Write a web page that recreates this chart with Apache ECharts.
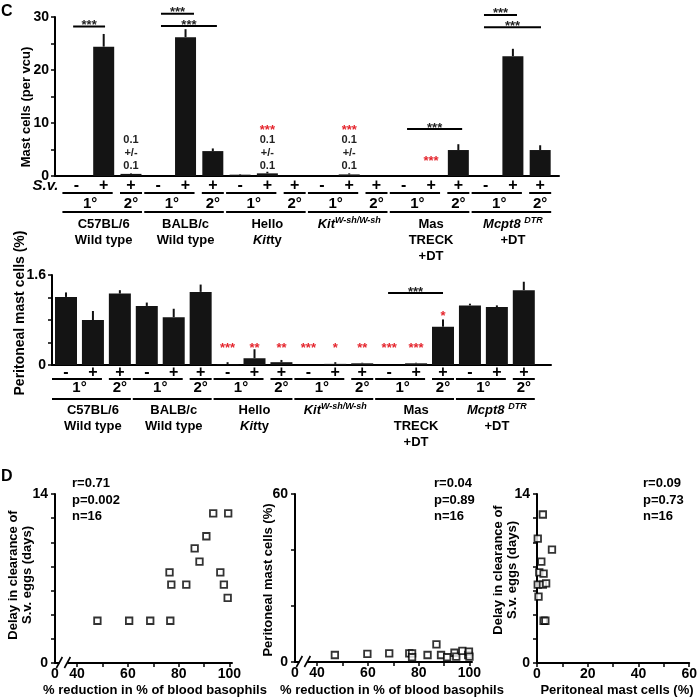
<!DOCTYPE html>
<html><head><meta charset="utf-8">
<script src="https://cdn.jsdelivr.net/npm/echarts@6/dist/echarts.min.js"></script>
<style>html,body{margin:0;padding:0;background:#fff}#c{width:700px;height:699px}</style>
</head><body><div id="c"></div>
<script>
// ---------------- data ----------------
const strainLabels = ['C57BL/6\nWild type', 'BALB/c\nWild type', 'Hello\n{i|Kit}ty', '{i|Kit}{sup|W-sh/W-sh}', 'Mas\nTRECK\n+DT', '{i|Mcpt8} {sup|DTR}\n+DT'];
const signs = ['-', '+', '+', '-', '+', '+', '-', '+', '+', '-', '+', '+', '-', '+', '+', '-', '+', '+'];
const infections = ['1°', '2°'];
const mastCells = [0, 24.4, 0.4, 0, 26.2, 4.7, 0.25, 0.5, 0, 0, 0.3, 0, 0, 0, 4.9, 0, 22.6, 4.9];
const mastCellsErr = [0, 2.4, 0.1, 0, 1.5, 0.5, 0.1, 0.3, 0, 0, 0.2, 0, 0, 0, 1.1, 0, 1.4, 0.9];
const periMast = [1.21, 0.80, 1.27, 1.05, 0.85, 1.30, 0.01, 0.12, 0.05, 0, 0.02, 0.03, 0, 0.03, 0.68, 1.06, 1.03, 1.33];
const periMastErr = [0.08, 0.16, 0.06, 0.06, 0.15, 0.13, 0.04, 0.16, 0.04, 0, 0.03, 0.01, 0, 0.01, 0.13, 0.03, 0.03, 0.15];
const mastTicks = [0, 10, 20, 30];
const periTicks = [0, 1.6];
// significance: [fromIndex, toIndex, yValue]
const topSigLines = [[-0.12, 1.05, 28.2], [3.1, 4.31, 30.6], [3.1, 5.15, 28.3], [12.12, 14.14, 8.87], [14.94, 16.15, 30.4], [14.94, 17.03, 28.06]];
const topRedStars = [[7, 9.25], [10, 9.25], [13, 3.4]];
const topRedStarText = ['***', '***', '***'];
const topSmallValues = [[2, 4.34], [7, 4.34], [10, 4.34]];
const topSmallText = '0.1\n+/-\n0.1';
const midSigLines = [[11.96, 14.0, 1.28]];
const midRedStars = [[6, 0.355], [7, 0.355], [8, 0.355], [9, 0.355], [10, 0.355], [11, 0.355], [12, 0.355], [13, 0.355], [14, 0.92]];
const midRedStarText = ['***', '**', '**', '***', '*', '**', '***', '***', '*'];
// scatter panels
const basoDelay = [[48.0, 3.5], [60.5, 3.5], [68.8, 3.5], [76.7, 3.5], [76.4, 7.5], [77.1, 6.5], [83.0, 6.5], [86.3, 9.5], [88.2, 8.4], [90.9, 10.5], [93.6, 12.4], [99.5, 12.4], [96.4, 7.5], [97.8, 6.5], [99.3, 5.4]];
const basoPeri = [[47.0, 2.5], [59.8, 2.9], [68.4, 3.1], [76.3, 3.1], [77.4, 3.1], [77.4, 1.7], [83.5, 2.5], [87.0, 6.3], [88.8, 2.5], [91.2, 1.7], [94.1, 3.3], [94.8, 1.9], [97.2, 4.0], [99.5, 2.5], [99.8, 3.7], [100, 1.9]];
const periDelay = [[2.3, 12.3], [0.3, 10.3], [5.9, 9.4], [1.7, 8.4], [0.9, 7.5], [2.6, 7.4], [0.3, 6.5], [2.3, 6.5], [3.6, 6.6], [0.6, 5.5], [2.6, 3.5], [3.3, 3.5]];
const basoLabelTicks = [40, 60, 80, 100];
const basoMinorTicks = [40, 50, 60, 70, 80, 90, 100];
const stats = [['r=0.71', 'p=0.002', 'n=16'], ['r=0.04', 'p=0.89', 'n=16'], ['r=0.09', 'p=0.73', 'n=16']];
const BASO_MIN = 31.3, BREAK_AT = 34.6;

// ---------------- styles ----------------
const FF = '"Liberation Sans", Arial, sans-serif';
const f = (s, extra) => (extra || 'bold') + ' ' + s + 'px ' + FF;
const AXLINE = { show: true, onZero: false, lineStyle: { color: '#000', width: 2 } };
const AXTICK = { show: true, length: 4, lineStyle: { color: '#000', width: 1.5 } };
const LBL = { color: '#000', fontWeight: 'bold', fontSize: 14, fontFamily: FF };
const RED = '#e5262e';
const richStyle = {
  i: { fontStyle: 'italic', fontWeight: 'bold', fontSize: 13, fontFamily: FF, fill: '#000' },
  sup: { fontStyle: 'italic', fontWeight: 'bold', fontSize: 9, fontFamily: FF, fill: '#000', verticalAlign: 'top', lineHeight: 9 }
};

function errorRender(params, api) {
  const x = api.value(0), v = api.value(1), e = api.value(2);
  if (!(e > 0)) return null;
  const a = api.coord([x, v]), b = api.coord([x, v + e]);
  return { type: 'line', shape: { x1: a[0], y1: a[1], x2: b[0], y2: b[1] }, style: { stroke: '#111', lineWidth: 2 } };
}
function makeSigRender(list) {
  return function (params, api) {
    const d = list[params.dataIndex];
    const a = api.coord([d[0], d[2]]), b = api.coord([d[1], d[2]]);
    return { type: 'group', children: [
      { type: 'line', shape: { x1: a[0], y1: a[1], x2: b[0], y2: a[1] }, style: { stroke: '#000', lineWidth: 2 } },
      { type: 'text', style: { text: '***', x: (a[0] + b[0]) / 2, y: a[1] - 1, align: 'center', verticalAlign: 'middle', font: f(13), fill: '#222' } }
    ] };
  };
}
function makeStarRender(list, texts, color) {
  return function (params, api) {
    const d = list[params.dataIndex];
    const p = api.coord([d[0], d[1]]);
    return { type: 'text', style: { text: texts[params.dataIndex], x: p[0], y: p[1] + 3, align: 'center', verticalAlign: 'middle', font: f(13), fill: color } };
  };
}
function smallValRender(params, api) {
  const p = api.coord([api.value(0), api.value(1)]);
  return { type: 'text', style: { text: topSmallText, x: p[0], y: p[1], align: 'center', verticalAlign: 'middle', font: f(11), lineHeight: 12.7, fill: '#222' } };
}
function makeBelowRender(cfg) {
  return function (params, api) {
    const g = params.dataIndex, b = g * 3;
    const p0 = api.coord([b, 0]), p1 = api.coord([b + 1, 0]), p2 = api.coord([b + 2, 0]);
    const y0 = p0[1];
    const ln = (x1, x2, y) => ({ type: 'line', shape: { x1: x1, y1: y, x2: x2, y2: y }, style: { stroke: '#000', lineWidth: 2 } });
    const tx = (t, x, y, font) => ({ type: 'text', style: { text: t, x: x, y: y, align: 'center', verticalAlign: 'middle', font: font, fill: '#000' } });
    const ch = [
      ln(p0[0] - 14, p1[0] + 9, y0 + cfg.r1),
      ln(p2[0] - 11, p2[0] + 11, y0 + cfg.r1),
      tx(infections[0], (p0[0] + p1[0]) / 2, y0 + cfg.r2, f(15)),
      tx(infections[1], p2[0], y0 + cfg.r2, f(15)),
      ln(p0[0] - 14, p2[0] + 11, y0 + cfg.r3),
      { type: 'text', style: { text: strainLabels[g], x: p1[0], y: y0 + cfg.r4, align: 'center', verticalAlign: 'top', font: f(13), lineHeight: cfg.lh, rich: richStyle, fill: '#000' } }
    ];
    if (cfg.sv && g === 0) {
      ch.push({ type: 'text', style: { text: 'S.v.', x: p0[0] - 18, y: y0 + 10, align: 'right', verticalAlign: 'middle', font: f(15, 'italic bold'), fill: '#000' } });
    }
    return { type: 'group', children: ch };
  };
}
function breakRender(params, api) {
  const p = api.coord([api.value(0), api.value(1)]);
  const x = p[0], y = p[1];
  return { type: 'group', children: [
    { type: 'rect', shape: { x: x - 4, y: y - 2, width: 8, height: 4 }, style: { fill: '#fff' } },
    { type: 'line', shape: { x1: x - 7, y1: y + 5, x2: x - 1, y2: y - 6 }, style: { stroke: '#000', lineWidth: 1.6 } },
    { type: 'line', shape: { x1: x + 1, y1: y + 5, x2: x + 7, y2: y - 6 }, style: { stroke: '#000', lineWidth: 1.6 } }
  ] };
}
const idx18 = signs.map((s, i) => i);
const SQ = { type: 'scatter', symbol: 'rect', symbolSize: 6.5, itemStyle: { color: '#fff', borderColor: '#000', borderWidth: 1.8 } };

const option = {
  animation: false,
  backgroundColor: '#fff',
  grid: [
    { left: 55, top: 17, width: 504, height: 159 },
    { left: 52, top: 275, width: 499, height: 90 },
    { left: 55, top: 494, width: 177, height: 169 },
    { left: 295, top: 494, width: 177, height: 168 },
    { left: 537, top: 494, width: 153, height: 169 }
  ],
  xAxis: [
    { gridIndex: 0, type: 'value', min: -0.785, max: 17.69, axisLine: AXLINE, axisTick: { show: false }, splitLine: { show: false },
      axisLabel: Object.assign({}, LBL, { fontSize: 16, customValues: idx18, margin: 10, verticalAlign: 'middle', formatter: v => signs[Math.round(v)] }) },
    { gridIndex: 1, type: 'value', min: -0.52, max: 18.01, axisLine: AXLINE, axisTick: { show: false }, splitLine: { show: false },
      axisLabel: Object.assign({}, LBL, { fontSize: 16, customValues: idx18, margin: 8, verticalAlign: 'middle', formatter: v => signs[Math.round(v)] }) },
    { gridIndex: 2, type: 'value', min: BASO_MIN, max: 101, axisLine: AXLINE, splitLine: { show: false },
      axisTick: Object.assign({}, AXTICK, { customValues: basoMinorTicks }),
      axisLabel: Object.assign({}, LBL, { margin: 4, customValues: [BASO_MIN].concat(basoLabelTicks), formatter: v => v < 35 ? '0' : String(v) }) },
    { gridIndex: 3, type: 'value', min: BASO_MIN, max: 101, axisLine: AXLINE, splitLine: { show: false },
      axisTick: Object.assign({}, AXTICK, { customValues: basoMinorTicks }),
      axisLabel: Object.assign({}, LBL, { margin: 4, customValues: [BASO_MIN].concat(basoLabelTicks), formatter: v => v < 35 ? '0' : String(v) }) },
    { gridIndex: 4, type: 'value', min: 0, max: 60, interval: 10, axisLine: AXLINE, splitLine: { show: false }, axisTick: AXTICK,
      axisLabel: Object.assign({}, LBL, { margin: 4, formatter: v => v % 20 === 0 ? String(v) : '' }) }
  ],
  yAxis: [
    { gridIndex: 0, type: 'value', min: 0, max: 30, interval: 5, axisLine: AXLINE, axisTick: AXTICK, splitLine: { show: false },
      axisLabel: Object.assign({}, LBL, { margin: 6, formatter: v => mastTicks.indexOf(v) >= 0 ? String(v) : '' }) },
    { gridIndex: 1, type: 'value', min: 0, max: 1.6, interval: 0.4, axisLine: AXLINE, axisTick: AXTICK, splitLine: { show: false },
      axisLabel: Object.assign({}, LBL, { margin: 6, formatter: v => { const t = periTicks.find(k => Math.abs(k - v) < 1e-6); return t === undefined ? '' : String(t); } }) },
    { gridIndex: 2, type: 'value', min: 0, max: 14, interval: 2, axisLine: AXLINE, axisTick: AXTICK, splitLine: { show: false },
      axisLabel: Object.assign({}, LBL, { margin: 7, formatter: v => (v === 0 || v === 14) ? String(v) : '' }) },
    { gridIndex: 3, type: 'value', min: 0, max: 60, interval: 20, axisLine: AXLINE, axisTick: AXTICK, splitLine: { show: false },
      axisLabel: Object.assign({}, LBL, { margin: 7, formatter: v => (v === 0 || v === 60) ? String(v) : '' }) },
    { gridIndex: 4, type: 'value', min: 0, max: 14, interval: 2, axisLine: AXLINE, axisTick: AXTICK, splitLine: { show: false },
      axisLabel: Object.assign({}, LBL, { margin: 7, formatter: v => (v === 0 || v === 14) ? String(v) : '' }) }
  ],
  series: [
    { type: 'bar', xAxisIndex: 0, yAxisIndex: 0, barWidth: 21, itemStyle: { color: '#141414' }, data: mastCells.map((v, i) => [i, v]) },
    { type: 'custom', xAxisIndex: 0, yAxisIndex: 0, renderItem: errorRender, data: mastCells.map((v, i) => [i, v, mastCellsErr[i]]), z: 3 },
    { type: 'custom', xAxisIndex: 0, yAxisIndex: 0, renderItem: makeSigRender(topSigLines), data: topSigLines.map(d => [d[0], d[2]]), clip: false, z: 4 },
    { type: 'custom', xAxisIndex: 0, yAxisIndex: 0, renderItem: makeStarRender(topRedStars, topRedStarText, RED), data: topRedStars, clip: false, z: 4 },
    { type: 'custom', xAxisIndex: 0, yAxisIndex: 0, renderItem: smallValRender, data: topSmallValues, clip: false, z: 4 },
    { type: 'custom', xAxisIndex: 0, yAxisIndex: 0, renderItem: makeBelowRender({ r1: 17, r2: 28, r3: 36, r4: 40, lh: 16, sv: true }), data: strainLabels.map((s, g) => [g * 3 + 1, 0]), clip: false, z: 4 },

    { type: 'bar', xAxisIndex: 1, yAxisIndex: 1, barWidth: 22, itemStyle: { color: '#141414' }, data: periMast.map((v, i) => [i, v]) },
    { type: 'custom', xAxisIndex: 1, yAxisIndex: 1, renderItem: errorRender, data: periMast.map((v, i) => [i, v, periMastErr[i]]), z: 3 },
    { type: 'custom', xAxisIndex: 1, yAxisIndex: 1, renderItem: makeSigRender(midSigLines), data: midSigLines.map(d => [d[0], d[2]]), clip: false, z: 4 },
    { type: 'custom', xAxisIndex: 1, yAxisIndex: 1, renderItem: makeStarRender(midRedStars, midRedStarText, RED), data: midRedStars, clip: false, z: 4 },
    { type: 'custom', xAxisIndex: 1, yAxisIndex: 1, renderItem: makeBelowRender({ r1: 14, r2: 23, r3: 34, r4: 37, lh: 16, sv: false }), data: strainLabels.map((s, g) => [g * 3 + 1, 0]), clip: false, z: 4 },

    Object.assign({}, SQ, { xAxisIndex: 2, yAxisIndex: 2, data: basoDelay }),
    Object.assign({}, SQ, { xAxisIndex: 3, yAxisIndex: 3, data: basoPeri }),
    Object.assign({}, SQ, { xAxisIndex: 4, yAxisIndex: 4, data: periDelay }),
    { type: 'custom', xAxisIndex: 2, yAxisIndex: 2, renderItem: breakRender, data: [[BREAK_AT, 0]], clip: false, z: 5 },
    { type: 'custom', xAxisIndex: 3, yAxisIndex: 3, renderItem: breakRender, data: [[BREAK_AT, 0]], clip: false, z: 5 }
  ],
  graphic: [
    { type: 'text', x: 1, y: 4, style: { text: 'C', font: f(16), fill: '#000' } },
    { type: 'text', x: 1, y: 469, style: { text: 'D', font: f(16), fill: '#000' } },
    { type: 'text', x: 26, y: 107, rotation: Math.PI / 2, style: { text: 'Mast cells (per vcu)', font: f(13), fill: '#000', align: 'center', verticalAlign: 'middle' } },
    { type: 'text', x: 20, y: 313, rotation: Math.PI / 2, style: { text: 'Peritoneal mast cells (%)', font: f(14), fill: '#000', align: 'center', verticalAlign: 'middle' } },
    { type: 'text', x: 20, y: 575, rotation: Math.PI / 2, style: { text: 'Delay in clearance of\nS.v. eggs (days)', font: f(13), lineHeight: 14, fill: '#000', align: 'center', verticalAlign: 'middle' } },
    { type: 'text', x: 268, y: 580, rotation: Math.PI / 2, style: { text: 'Peritoneal mast cells (%)', font: f(13), fill: '#000', align: 'center', verticalAlign: 'middle' } },
    { type: 'text', x: 505, y: 570, rotation: Math.PI / 2, style: { text: 'Delay in clearance of\nS.v. eggs (days)', font: f(13), lineHeight: 14, fill: '#000', align: 'center', verticalAlign: 'middle' } },
    { type: 'text', x: 155, y: 690, style: { text: '% reduction in % of blood basophils', font: f(13), fill: '#000', align: 'center', verticalAlign: 'middle' } },
    { type: 'text', x: 392, y: 690, style: { text: '% reduction in % of blood basophils', font: f(13), fill: '#000', align: 'center', verticalAlign: 'middle' } },
    { type: 'text', x: 617, y: 690, style: { text: 'Peritoneal mast cells (%)', font: f(13), fill: '#000', align: 'center', verticalAlign: 'middle' } },
    { type: 'text', x: 72, y: 500, style: { text: stats[0].join('\n'), font: f(13), lineHeight: 16.5, fill: '#000', verticalAlign: 'middle' } },
    { type: 'text', x: 434, y: 500, style: { text: stats[1].join('\n'), font: f(13), lineHeight: 16.5, fill: '#000', verticalAlign: 'middle' } },
    { type: 'text', x: 643, y: 500, style: { text: stats[2].join('\n'), font: f(13), lineHeight: 16.5, fill: '#000', verticalAlign: 'middle' } }
  ]
};
const chart = echarts.init(document.getElementById('c'), null, { renderer: 'canvas' });
chart.setOption(option);
</script></body></html>
